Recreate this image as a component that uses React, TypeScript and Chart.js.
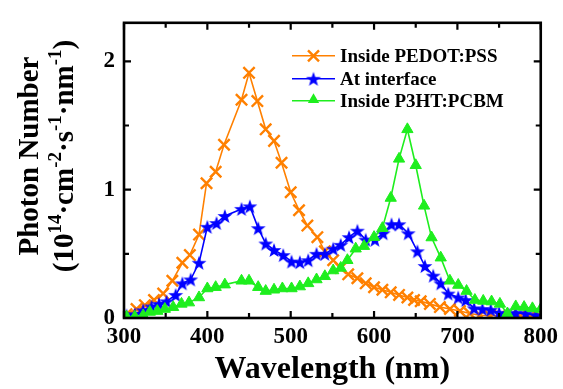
import React, { useEffect, useRef } from 'react';
import { Chart, registerables } from 'chart.js';

Chart.register(...registerables);

// ---------- data ----------
const seriesNames = ['Inside PEDOT:PSS', 'At interface', 'Inside P3HT:PCBM'];

const pedotX = [303, 315, 325, 336, 347, 358, 370, 379, 390, 399, 410, 420, 441, 450, 460, 470, 480, 489, 500, 510, 520, 532, 541, 551, 560, 569, 580, 590, 600, 610, 620, 630, 640, 648, 656, 667, 679, 691, 703, 715, 727, 739, 751, 763, 775, 787, 800];
const pedotY = [0.03, 0.07, 0.10, 0.14, 0.19, 0.29, 0.43, 0.49, 0.65, 1.05, 1.14, 1.35, 1.70, 1.91, 1.69, 1.47, 1.38, 1.21, 0.98, 0.84, 0.72, 0.63, 0.52, 0.45, 0.39, 0.34, 0.31, 0.27, 0.24, 0.22, 0.20, 0.18, 0.16, 0.14, 0.13, 0.11, 0.085, 0.07, 0.055, 0.035, 0.022, 0.02, 0.018, 0.012, 0.015, 0.012, 0.01];

const interfaceX = [303, 313, 323, 333, 342, 351, 362, 370, 380, 390, 400, 411, 421, 441, 451, 461, 470, 480, 491, 501, 511, 521, 531, 541, 551, 560, 570, 580, 590, 601, 611, 621, 630, 641, 652, 661, 671, 680, 689, 701, 710, 720, 730, 740, 750, 762, 770, 782, 794];
const interfaceY = [0.02, 0.03, 0.06, 0.09, 0.11, 0.13, 0.18, 0.27, 0.30, 0.43, 0.71, 0.74, 0.795, 0.85, 0.87, 0.70, 0.58, 0.53, 0.49, 0.44, 0.435, 0.45, 0.50, 0.50, 0.54, 0.57, 0.63, 0.68, 0.61, 0.61, 0.66, 0.73, 0.73, 0.66, 0.52, 0.405, 0.33, 0.27, 0.19, 0.16, 0.14, 0.075, 0.07, 0.064, 0.04, 0.025, 0.04, 0.035, 0.022];

const p3htX = [303, 313, 323, 331, 340, 349, 359, 369, 378, 390, 400, 410, 421, 441, 450, 461, 470, 480, 490, 501, 511, 521, 531, 541, 551, 560, 568, 578, 588, 600, 610, 620, 630, 640, 650, 660, 669, 680, 691, 701, 711, 721, 731, 741, 751, 760, 770, 780, 790, 800];
const p3htY = [0.01, 0.01, 0.02, 0.047, 0.054, 0.07, 0.084, 0.11, 0.12, 0.16, 0.23, 0.24, 0.26, 0.29, 0.29, 0.24, 0.21, 0.22, 0.23, 0.23, 0.245, 0.27, 0.30, 0.325, 0.37, 0.39, 0.45, 0.54, 0.56, 0.63, 0.70, 0.935, 1.24, 1.47, 1.19, 0.874, 0.627, 0.47, 0.29, 0.257, 0.21, 0.14, 0.133, 0.128, 0.11, 0.035, 0.09, 0.085, 0.075, 0.07];

const xMajorTicks = [300, 400, 500, 600, 700, 800];
const xMinorTicks = [350, 450, 550, 650, 750];
const yMajorTicks = [0, 1, 2];
const yMinorTicks = [0.5, 1.5];

const ORANGE = '#ff8000';
const BLUE = '#0000ff';
const GREEN = '#1eee1e';
const FONT = "'Liberation Serif', 'Times New Roman', serif";

function makeStar(color: string, outer: number, inner: number) {
  const size = Math.ceil(outer * 2 + 2);
  const c = document.createElement('canvas');
  c.width = size;
  c.height = size;
  const ctx = c.getContext('2d')!;
  ctx.beginPath();
  const cy = size / 2 + outer * 0.1;
  for (let i = 0; i < 10; i++) {
    const r = i % 2 === 0 ? outer : inner;
    const a = -Math.PI / 2 + (i * Math.PI) / 5;
    const px = size / 2 + r * Math.cos(a);
    const py = cy + r * Math.sin(a);
    if (i === 0) ctx.moveTo(px, py);
    else ctx.lineTo(px, py);
  }
  ctx.closePath();
  ctx.fillStyle = color;
  ctx.fill();
  return c;
}

function drawCross(ctx: CanvasRenderingContext2D, x: number, y: number, h: number, color: string) {
  ctx.save();
  ctx.strokeStyle = color;
  ctx.lineWidth = 2.4;
  ctx.beginPath();
  ctx.moveTo(x - h, y - h);
  ctx.lineTo(x + h, y + h);
  ctx.moveTo(x - h, y + h);
  ctx.lineTo(x + h, y - h);
  ctx.stroke();
  ctx.restore();
}

function drawTriangle(ctx: CanvasRenderingContext2D, x: number, y: number, r: number, color: string) {
  ctx.save();
  ctx.fillStyle = color;
  ctx.beginPath();
  for (let i = 0; i < 3; i++) {
    const a = -Math.PI / 2 + (i * 2 * Math.PI) / 3;
    const px = x + r * Math.cos(a);
    const py = y + r * Math.sin(a);
    if (i === 0) ctx.moveTo(px, py);
    else ctx.lineTo(px, py);
  }
  ctx.closePath();
  ctx.fill();
  ctx.restore();
}

export default function App() {
  const ref = useRef<HTMLCanvasElement>(null);

  useEffect(() => {
    const canvas = ref.current;
    if (!canvas) return;
    const star = makeStar(BLUE, 7.8, 3.1);

    const framePlugin = {
      id: 'frameTicks',
      afterDatasetsDraw(chart: any) {
        const { ctx, chartArea } = chart;
        const { left, right, top, bottom } = chartArea;
        const xs = chart.scales.x;
        const ys = chart.scales.y;
        ctx.save();
        ctx.strokeStyle = '#000';
        ctx.lineWidth = 2.2;
        ctx.beginPath();
        const tick = (vals: number[], len: number) => {
          vals.forEach((v) => {
            const px = xs.getPixelForValue(v);
            ctx.moveTo(px, bottom);
            ctx.lineTo(px, bottom - len);
            ctx.moveTo(px, top);
            ctx.lineTo(px, top + len);
          });
        };
        const ytick = (vals: number[], len: number) => {
          vals.forEach((v) => {
            const py = ys.getPixelForValue(v);
            ctx.moveTo(left, py);
            ctx.lineTo(left + len, py);
            ctx.moveTo(right, py);
            ctx.lineTo(right - len, py);
          });
        };
        tick(xMajorTicks, 7);
        tick(xMinorTicks, 5);
        ytick(yMajorTicks, 7);
        ytick(yMinorTicks, 5);
        ctx.stroke();
        ctx.lineWidth = 2.6;
        ctx.strokeRect(left, top, right - left, bottom - top);
        ctx.restore();

        // legend
        const lx0 = left + 168;
        const lx1 = left + 211;
        const mx = (lx0 + lx1) / 2;
        const tx = left + 216;
        const rows = [top + 33, top + 56, top + 78];
        const colors = [ORANGE, BLUE, GREEN];
        ctx.save();
        rows.forEach((ry, i) => {
          ctx.strokeStyle = colors[i];
          ctx.lineWidth = 1.6;
          ctx.beginPath();
          ctx.moveTo(lx0, ry);
          ctx.lineTo(lx1, ry);
          ctx.stroke();
          if (i === 0) drawCross(ctx, mx, ry, 5.5, ORANGE);
          if (i === 1) ctx.drawImage(star, mx - star.width / 2, ry - star.height / 2);
          if (i === 2) drawTriangle(ctx, mx, ry - 1, 6.5, GREEN);
          ctx.fillStyle = '#000';
          ctx.font = `bold 19px ${FONT}`;
          ctx.textBaseline = 'middle';
          ctx.textAlign = 'left';
          ctx.fillText(seriesNames[i], tx, ry + 1);
        });
        ctx.restore();
      },
      afterDraw(chart: any) {
        const { ctx, chartArea } = chart;
        const { left, right } = chartArea;
        ctx.save();
        ctx.fillStyle = '#000';
        // x title
        ctx.font = `bold 32px ${FONT}`;
        ctx.textAlign = 'center';
        ctx.textBaseline = 'alphabetic';
        ctx.fillText('Wavelength (nm)', (left + right) / 2, 378);
        // y title
        const cy = 156;
        ctx.save();
        ctx.translate(38, cy);
        ctx.rotate(-Math.PI / 2);
        ctx.font = `bold 29px ${FONT}`;
        ctx.textAlign = 'center';
        ctx.fillText('Photon Number', 0, 0);
        ctx.restore();

        const segs: [string, boolean][] = [
          ['(10', false], ['14', true], ['\u00b7cm', false], ['-2', true],
          ['\u00b7s', false], ['-1', true], ['\u00b7nm', false], ['-1', true], [')', false],
        ];
        const mainF = `bold 29px ${FONT}`;
        const supF = `bold 19px ${FONT}`;
        let total = 0;
        const widths = segs.map(([t, s]) => {
          ctx.font = s ? supF : mainF;
          const w = ctx.measureText(t).width;
          total += w;
          return w;
        });
        ctx.save();
        ctx.translate(73, cy);
        ctx.rotate(-Math.PI / 2);
        ctx.textAlign = 'left';
        let pos = -total / 2;
        segs.forEach(([t, s], i) => {
          ctx.font = s ? supF : mainF;
          ctx.fillText(t, pos, s ? -12 : 0);
          pos += widths[i];
        });
        ctx.restore();
        ctx.restore();
      },
    };

    const toPts = (xs: number[], ys: number[]) => xs.map((x, i) => ({ x, y: ys[i] }));

    const chart = new Chart(canvas, {
      type: 'line',
      data: {
        datasets: [
          {
            label: seriesNames[0],
            data: toPts(pedotX, pedotY),
            borderColor: ORANGE,
            backgroundColor: ORANGE,
            borderWidth: 1.6,
            pointStyle: 'crossRot',
            pointRadius: 8,
            pointBorderWidth: 2.4,
            pointBorderColor: ORANGE,
            order: 2,
          },
          {
            label: seriesNames[1],
            data: toPts(interfaceX, interfaceY),
            borderColor: BLUE,
            backgroundColor: BLUE,
            borderWidth: 1.6,
            pointStyle: star as any,
            pointRadius: 8,
            order: 1,
          },
          {
            label: seriesNames[2],
            data: toPts(p3htX, p3htY),
            borderColor: GREEN,
            backgroundColor: GREEN,
            borderWidth: 1.6,
            pointStyle: 'triangle',
            pointRadius: 6.5,
            pointBorderWidth: 1,
            pointBackgroundColor: GREEN,
            pointBorderColor: GREEN,
            order: 0,
          },
        ],
      },
      options: {
        animation: false,
        responsive: false,
        events: [],
        layout: { padding: { top: 7, right: 18, left: 0, bottom: 0 } },
        plugins: {
          legend: { display: false },
          tooltip: { enabled: false },
          title: { display: false },
        },
        scales: {
          x: {
            type: 'linear',
            min: 300,
            max: 800,
            grid: { display: false, drawTicks: false },
            border: { display: false },
            afterBuildTicks: (s: any) => {
              s.ticks = xMajorTicks.map((v) => ({ value: v }));
            },
            afterFit: (s: any) => {
              s.height = 71;
            },
            ticks: {
              color: '#000',
              padding: 5,
              maxRotation: 0,
              font: { family: FONT, size: 23, weight: 'bold' },
              callback: (v: any) => String(v),
            },
          },
          y: {
            type: 'linear',
            min: 0,
            max: 2.3,
            grid: { display: false, drawTicks: false },
            border: { display: false },
            afterBuildTicks: (s: any) => {
              s.ticks = yMajorTicks.map((v) => ({ value: v }));
            },
            afterFit: (s: any) => {
              s.width = 124;
            },
            ticks: {
              color: '#000',
              padding: 9,
              font: { family: FONT, size: 23, weight: 'bold' },
              callback: (v: any) => String(v),
            },
          },
        },
      },
      plugins: [framePlugin],
    });

    return () => chart.destroy();
  }, []);

  return (
    <div style={{ position: 'fixed', left: 0, top: 0, width: 563, height: 389, background: '#fff' }}>
      <canvas ref={ref} width={563} height={389} style={{ width: 563, height: 389, display: 'block' }} />
    </div>
  );
}
